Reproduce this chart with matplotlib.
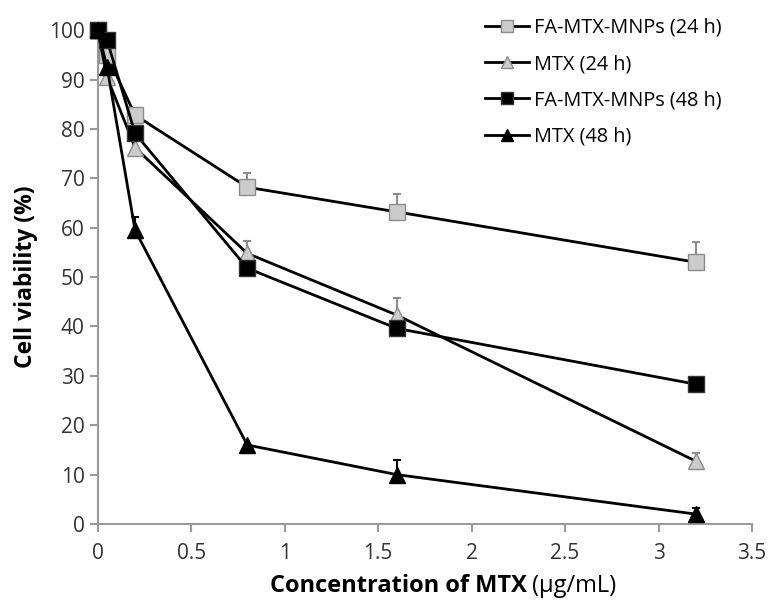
import matplotlib
matplotlib.use('Agg')
import matplotlib.pyplot as plt

plt.rcParams['font.family'] = ['Open Sans', 'DejaVu Sans']

# Concentration of MTX (ug/mL)
conc = [0, 0.05, 0.2, 0.8, 1.6, 3.2]

# Cell viability (%) and upper error bars
fa_24 = [100, 95, 82.8, 68.2, 63.2, 53.0]
fa_24_err = [0, 0, 0, 2.8, 3.6, 4.2]
mtx_24 = [100, 90.5, 76.2, 54.8, 42.3, 12.7]
mtx_24_err = [0, 0, 0, 2.6, 3.4, 1.6]
fa_48 = [100, 98, 79.1, 51.8, 39.6, 28.3]
fa_48_err = [0, 0, 0, 0, 0, 0]
mtx_48 = [100, 92.6, 59.5, 16.0, 10.0, 2.0]
mtx_48_err = [0, 0, 2.7, 0, 3.0, 1.3]

labels = ['FA-MTX-MNPs (24 h)', 'MTX (24 h)', 'FA-MTX-MNPs (48 h)', 'MTX (48 h)']

fig = plt.figure(figsize=(7.69, 6.03), dpi=100)
ax = fig.add_axes([0.127, 0.131, 0.851, 0.819])

grey_fill = '#cccccc'
grey_edge = '#8c8c8c'

series = [
    (fa_24, fa_24_err, 's', grey_fill, grey_edge),
    (mtx_24, mtx_24_err, '^', grey_fill, grey_edge),
    (fa_48, fa_48_err, 's', 'black', '#333333'),
    (mtx_48, mtx_48_err, '^', 'black', 'black'),
]

# error bars first (only upper side)
for vals, err, mk, fc, ec in series:
    ax.errorbar(conc, vals, yerr=[[0] * len(err), err], fmt='none',
                ecolor=ec, elinewidth=1.5, capsize=3, capthick=1.5, zorder=2)

handles = []
for (vals, err, mk, fc, ec), lab in zip(series, labels):
    h, = ax.plot(conc, vals, color='black', linewidth=2, marker=mk, markersize=11,
                 markerfacecolor=fc, markeredgecolor=ec, markeredgewidth=1, label=lab,
                 zorder=3)
    handles.append(h)

ax.set_xlim(0, 3.5)
ax.set_ylim(0, 100)
ax.set_xticks([0, 0.5, 1, 1.5, 2, 2.5, 3, 3.5])
ax.set_xticklabels(['0', '0.5', '1', '1.5', '2', '2.5', '3', '3.5'])
ax.set_yticks(range(0, 101, 10))

for s in ['top', 'right']:
    ax.spines[s].set_visible(False)
for s in ['left', 'bottom']:
    ax.spines[s].set_color('#999999')
    ax.spines[s].set_linewidth(1.5)
ax.tick_params(axis='both', colors='#999999', labelcolor='#333333', labelsize=15,
               length=6, width=1.5, direction='out')
ax.tick_params(axis='x', pad=8)
for line in ax.lines:
    line.set_clip_on(False)

ax.set_ylabel('Cell viability (%)', fontsize=16.5, fontweight='bold', labelpad=8)

# x label: bold part + normal part, centred as one string
fig.canvas.draw()
renderer = fig.canvas.get_renderer()
W = fig.bbox.width
t1 = fig.text(0, 0.018, 'Concentration of MTX', fontsize=17, fontweight='bold', ha='left')
t2 = fig.text(0, 0.018, '(\u00b5g/mL)', fontsize=17, ha='left')
w1 = t1.get_window_extent(renderer=renderer).width
w2 = t2.get_window_extent(renderer=renderer).width
gap = 6
x0 = 443 - (w1 + gap + w2) / 2
t1.set_x(x0 / W)
t2.set_x((x0 + w1 + gap) / W)

leg = ax.legend(handles=handles, loc='upper left', bbox_to_anchor=(0.592, 1.025),
                frameon=False, fontsize=14.3, handlelength=2.2, labelspacing=0.82,
                handletextpad=0.25, borderpad=0, borderaxespad=0, markerscale=0.75)

fig.savefig('out.png', dpi=100)
